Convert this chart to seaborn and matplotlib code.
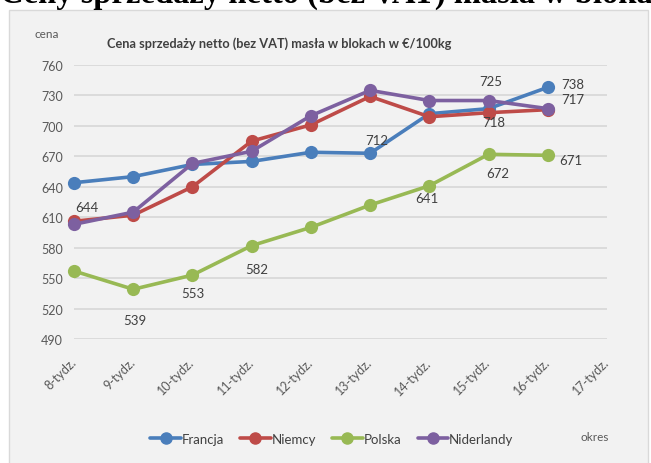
# Cena sprzedazy masla w blokach - odtworzenie wykresu
import pandas as pd
import numpy as np
import seaborn as sns
import matplotlib.pyplot as plt
from matplotlib.patches import Rectangle
from matplotlib.lines import Line2D

# dane
tygodnie = ['8-tydz.', '9-tydz.', '10-tydz.', '11-tydz.', '12-tydz.',
            '13-tydz.', '14-tydz.', '15-tydz.', '16-tydz.', '17-tydz.']
kraje = ['Francja', 'Niemcy', 'Polska', 'Niderlandy']
francja = [644, 650, 662, 665, 674, 673, 712, 717, 738]
niemcy = [606, 612, 640, 685, 701, 729, 709, 713, 716]
polska = [557, 539, 553, 582, 600, 622, 641, 672, 671]
niderlandy = [603, 615, 663, 675, 710, 735, 725, 725, 717]
os_y = [490, 520, 550, 580, 610, 640, 670, 700, 730, 760]

# etykiety danych: kraj, indeks tygodnia, tekst
etykiety_kraj = ['Francja', 'Polska', 'Polska', 'Polska', 'Francja', 'Polska',
                 'Polska', 'Niderlandy', 'Niemcy', 'Francja', 'Niderlandy', 'Polska']
etykiety_idx = [0, 1, 2, 3, 5, 6, 7, 7, 7, 8, 8, 8]
etykiety_tekst = ['644', '539', '553', '582', '712', '641',
                  '672', '725', '718', '738', '717', '671']
# przesuniecia etykiet w pikselach (x w prawo, y w dol)
przesuniecia = [(13, 24), (2, 31), (0, 18), (5, 23), (7, -13), (-2, 12),
                (9, 19), (2, -20), (5, 9), (25, -3), (25, -10), (23, 5)]

kolory = ['#4a7ebb', '#be4b48', '#98b954', '#7d60a0']

serie = {'Francja': francja, 'Niemcy': niemcy, 'Polska': polska, 'Niderlandy': niderlandy}
df = pd.DataFrame({
    'tydzien': list(range(len(francja))) * 4,
    'cena': francja + niemcy + polska + niderlandy,
    'kraj': np.repeat(kraje, len(francja)),
})

sns.set_style('white')
plt.rcParams['font.family'] = ['Lato', 'DejaVu Sans']

W, H = 651, 464
fig = plt.figure(figsize=(W / 100, H / 100), dpi=100)

# tlo obszaru wykresu
fig.patches.append(Rectangle((9 / W, -0.01), 639 / W, 1 - 11 / H + 0.01,
                             transform=fig.transFigure, facecolor='#f2f2f2',
                             edgecolor='#d9d9d9', lw=1, zorder=-10))

# uciety tytul nad wykresem
fig.text(0.0, 1 - 3 / H, 'Ceny sprzedaży netto (bez VAT) masła w blokach w €/100kg',
         family='Liberation Serif', weight='bold', fontsize=23.5, va='baseline',
         ha='left', color='black')

ax = fig.add_axes([74 / W, 124 / H, 533 / W, 274 / H])
ax.patch.set_alpha(0)

sns.lineplot(data=df, x='tydzien', y='cena', hue='kraj', hue_order=kraje,
             palette=kolory, marker='o', markersize=9.5, markeredgewidth=0,
             linewidth=2.6, ax=ax, legend=False, clip_on=False)

ax.set_xlim(0, 9)
ax.set_ylim(490, 760)
ax.set_xticks(range(len(tygodnie)))
ax.set_xticklabels(tygodnie, rotation=45, ha='right', va='center',
                   rotation_mode='anchor')
ax.set_yticks(os_y)
ax.tick_params(axis='x', length=0, pad=15, labelsize=9, labelcolor='#595959')
ax.tick_params(axis='y', length=0, pad=8, labelsize=9, labelcolor='#595959')
ax.grid(axis='y', color='#d9d9d9', lw=1.3)
ax.set_axisbelow(True)
for s in ax.spines.values():
    s.set_visible(False)
ax.set_xlabel('')
ax.set_ylabel('')

# etykiety danych
for k, i, t, (dx, dy) in zip(etykiety_kraj, etykiety_idx, etykiety_tekst, przesuniecia):
    ax.annotate(t, (i, serie[k][i]), xytext=(dx * 0.72, -dy * 0.72),
                textcoords='offset points', ha='center', va='center',
                fontsize=9.5, color='#404040')

fig.text(107 / W, 1 - 44 / H, 'Cena sprzedaży netto (bez VAT) masła w blokach w €/100kg',
         ha='left', va='center', fontsize=9.2, weight='bold', color='#404040')
fig.text(47 / W, 1 - 34 / H, 'cena', ha='center', va='center', fontsize=8.5, color='#595959')
fig.text(595 / W, 1 - 438 / H, 'okres', ha='center', va='center', fontsize=8.5, color='#595959')

uchwyty = [Line2D([], [], color=c, lw=2.6, marker='o', markersize=8) for c in kolory]
leg = fig.legend(uchwyty, kraje, loc='center', bbox_to_anchor=(332 / W, 1 - 440 / H),
                 ncol=4, frameon=False, fontsize=9.5, handlelength=2.3,
                 columnspacing=1.2, handletextpad=0.1)
for t in leg.get_texts():
    t.set_color('#404040')

fig.savefig('out.png', dpi=100)
